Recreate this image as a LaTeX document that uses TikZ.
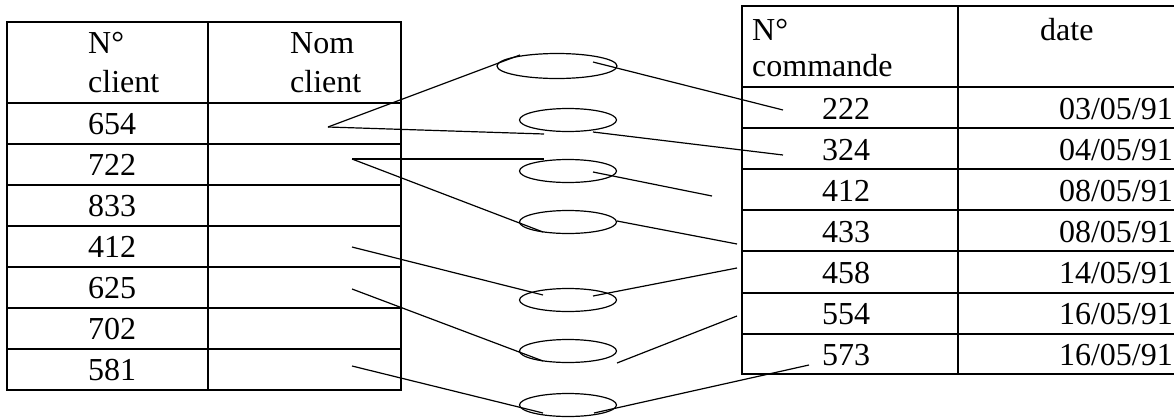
\documentclass[tikz,border=0pt]{standalone}
\usepackage{fontspec}
\setmainfont{Liberation Serif}
\usetikzlibrary{shapes.geometric}

\begin{document}
\begin{tikzpicture}[x=1pt, y=-1pt,
    grid/.style={line width=1.6pt},
    link/.style={line width=1.2pt},
    cell/.style={anchor=base west, inner sep=0pt, font=\fontsize{32}{38}\selectfont},
    datecell/.style={anchor=base east, inner sep=0pt, font=\fontsize{32}{38}\selectfont},
    assoc/.style={ellipse, draw, line width=1.2pt, inner sep=0pt, minimum width=97pt, minimum height=23pt}]
    \useasboundingbox (0,0) rectangle (1174,418);

    % Client table
    \draw[grid] (7,22) rectangle (401,390);
    \draw[grid] (208,22) -- (208,390);
    \draw[grid] (7,103) -- (401,103) (7,144) -- (401,144) (7,185) -- (401,185)
        (7,226) -- (401,226) (7,267) -- (401,267) (7,308) -- (401,308) (7,349) -- (401,349);
    \node[cell] (hno) at (88,53) {N°};
    \node[cell] (hcl) at (88,92) {client};
    \node[cell] (hnom) at (290,53) {Nom};
    \node[cell] (hnomcl) at (290,92) {client};
    \node[cell] (k654) at (88,134) {654};
    \node[cell] (k722) at (88,175) {722};
    \node[cell] (k833) at (88,216) {833};
    \node[cell] (k412) at (88,257) {412};
    \node[cell] (k625) at (88,298) {625};
    \node[cell] (k702) at (88,339) {702};
    \node[cell] (k581) at (88,380) {581};

    % Order table
    \draw[grid] (1174,6) -- (742,6) -- (742,374) -- (1174,374);
    \draw[grid] (958,6) -- (958,374);
    \draw[grid] (742,87) -- (1174,87) (742,128) -- (1174,128) (742,169) -- (1174,169)
        (742,210) -- (1174,210) (742,251) -- (1174,251) (742,293) -- (1174,293) (742,334) -- (1174,334);
    \node[cell] (hcno) at (752,40) {N°};
    \node[cell] (hcmd) at (752,76) {commande};
    \node[cell] (hdate) at (1040,40) {date};
    \node[cell] (o222) at (822,119) {222};
    \node[cell] (o324) at (822,160) {324};
    \node[cell] (o412) at (822,201) {412};
    \node[cell] (o433) at (822,242) {433};
    \node[cell] (o458) at (822,283) {458};
    \node[cell] (o554) at (822,324) {554};
    \node[cell] (o573) at (822,365) {573};
    \node[datecell] (d222) at (1173,119) {03/05/91};
    \node[datecell] (d324) at (1173,160) {04/05/91};
    \node[datecell] (d412) at (1173,201) {08/05/91};
    \node[datecell] (d433) at (1173,242) {08/05/91};
    \node[datecell] (d458) at (1173,283) {14/05/91};
    \node[datecell] (d554) at (1173,324) {16/05/91};
    \node[datecell] (d573) at (1173,365) {16/05/91};

    % Association ellipses
    \node[assoc, minimum width=120pt, minimum height=25pt] (e1) at (557,66) {};
    \node[assoc] (e2) at (568,120) {};
    \node[assoc] (e3) at (568,171) {};
    \node[assoc] (e4) at (568,222) {};
    \node[assoc] (e5) at (568,300) {};
    \node[assoc] (e6) at (568,351) {};
    \node[assoc] (e7) at (568,405) {};

    % Line ends
    \coordinate (c654) at (328,127);
    \coordinate (c722) at (352,159);
    \coordinate (c412) at (352,247);
    \coordinate (c625) at (352,289);
    \coordinate (c581) at (352,366);
    \coordinate (a1) at (520,55);
    \coordinate (a2) at (544,134);
    \coordinate (a3) at (544,159);
    \coordinate (a4) at (543,232);
    \coordinate (a5) at (543,295);
    \coordinate (a6) at (543,361);
    \coordinate (a7) at (543,413);
    \coordinate (b1) at (593,62);
    \coordinate (b2) at (593,132);
    \coordinate (b3) at (593,172);
    \coordinate (b4) at (617,221);
    \coordinate (b5) at (593,296);
    \coordinate (b6) at (617,363);
    \coordinate (b7) at (594,413);
    \coordinate (r222) at (783,110);
    \coordinate (r324) at (783,155);
    \coordinate (r412) at (712,196);
    \coordinate (r433) at (737,244);
    \coordinate (r458) at (737,268);
    \coordinate (r554) at (737,316);
    \coordinate (r573) at (809,365);

    % Client side links
    \draw[link] (c654) -- (a1);
    \draw[link] (c654) -- (a2);
    \draw[link] (c722) -- (a3);
    \draw[link] (c722) -- (a4);
    \draw[link] (c412) -- (a5);
    \draw[link] (c625) -- (a6);
    \draw[link] (c581) -- (a7);

    % Order side links
    \draw[link] (b1) -- (r222);
    \draw[link] (b2) -- (r324);
    \draw[link] (b3) -- (r412);
    \draw[link] (b4) -- (r433);
    \draw[link] (b5) -- (r458);
    \draw[link] (b6) -- (r554);
    \draw[link] (b7) -- (r573);
\end{tikzpicture}
\end{document}
